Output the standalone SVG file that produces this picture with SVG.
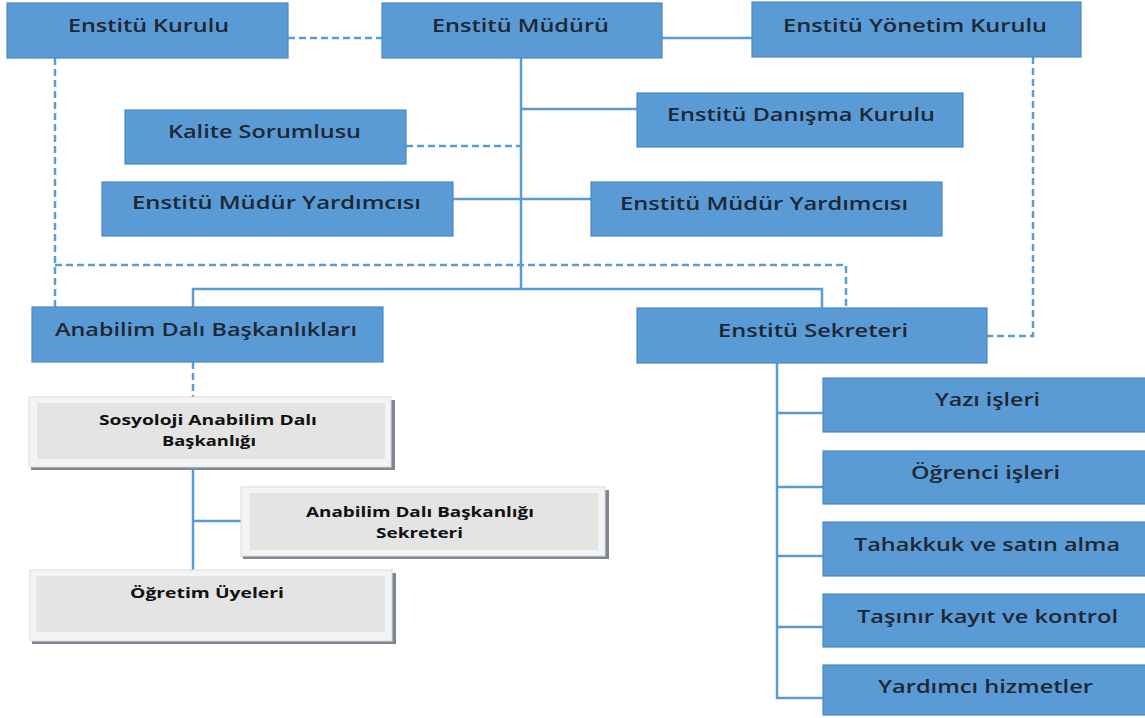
<svg xmlns="http://www.w3.org/2000/svg" width="1145" height="718" viewBox="0 0 1145 718">
<defs>
<style>
.bx{fill:#5b9bd5;stroke:#4a88c2;stroke-width:1.2}
.bt{font-family:"Open Sans","Liberation Sans",sans-serif;font-size:18px;font-weight:600;fill:#1d2835}
.gs{fill:#7d8894}
.go{fill:#f4f4f4;stroke:#dcdcdc;stroke-width:1}
.gi{fill:#e4e4e4}
.gt{font-family:"Open Sans","Liberation Sans",sans-serif;font-size:15px;font-weight:700;fill:#111}
.ln{fill:none;stroke:#5b9bd5;stroke-width:2.5}
.dl{fill:none;stroke:#5b9bd5;stroke-width:2.5;stroke-dasharray:7 4}
</style>
</defs>
<rect width="1145" height="718" fill="#fff"/>
<g id="connectors">
<path class="dl" d="M288 38H382"/>
<path class="ln" d="M662 38H752"/>
<path class="ln" d="M521 58V289"/>
<path class="ln" d="M521 109H637"/>
<path class="dl" d="M406 146H521"/>
<path class="ln" d="M453 199H591"/>
<path class="dl" d="M55 58V307"/>
<path class="dl" d="M55 265H846V308"/>
<path class="ln" d="M193 307V289H822V308"/>
<path class="dl" d="M1033 57V336H987"/>
<path class="dl" d="M193 362V397"/>
<path class="ln" d="M193 468V570"/>
<path class="ln" d="M193 521H241"/>
<path class="ln" d="M777 363V698H823"/>
<path class="ln" d="M777 413H823"/>
<path class="ln" d="M777 487H823"/>
<path class="ln" d="M777 556H823"/>
<path class="ln" d="M777 627H823"/>
</g>
<g id="enstitu-kurulu"><rect class="bx" x="7" y="3" width="281" height="55"/><text class="bt" x="68" y="32" textLength="161" lengthAdjust="spacingAndGlyphs">Enstitü Kurulu</text></g>
<g id="enstitu-muduru"><rect class="bx" x="382" y="3" width="280" height="55"/><text class="bt" x="432" y="32" textLength="177" lengthAdjust="spacingAndGlyphs">Enstitü Müdürü</text></g>
<g id="enstitu-yonetim-kurulu"><rect class="bx" x="752" y="2" width="329" height="55"/><text class="bt" x="783" y="32" textLength="264" lengthAdjust="spacingAndGlyphs">Enstitü Yönetim Kurulu</text></g>
<g id="danisma-kurulu"><rect class="bx" x="637" y="93" width="326" height="54"/><text class="bt" x="667" y="121" textLength="268" lengthAdjust="spacingAndGlyphs">Enstitü Danışma Kurulu</text></g>
<g id="kalite-sorumlusu"><rect class="bx" x="125" y="110" width="281" height="54"/><text class="bt" x="168" y="138" textLength="193" lengthAdjust="spacingAndGlyphs">Kalite Sorumlusu</text></g>
<g id="mudur-yardimcisi-1"><rect class="bx" x="102" y="182" width="351" height="54"/><text class="bt" x="132" y="209" textLength="289" lengthAdjust="spacingAndGlyphs">Enstitü Müdür Yardımcısı</text></g>
<g id="mudur-yardimcisi-2"><rect class="bx" x="591" y="182" width="351" height="54"/><text class="bt" x="620" y="210" textLength="288" lengthAdjust="spacingAndGlyphs">Enstitü Müdür Yardımcısı</text></g>
<g id="anabilim-dali-baskanliklari"><rect class="bx" x="32" y="307" width="351" height="55"/><text class="bt" x="55" y="336" textLength="302" lengthAdjust="spacingAndGlyphs">Anabilim Dalı Başkanlıkları</text></g>
<g id="enstitu-sekreteri"><rect class="bx" x="637" y="308" width="350" height="55"/><text class="bt" x="718" y="337" textLength="190" lengthAdjust="spacingAndGlyphs">Enstitü Sekreteri</text></g>
<g id="yazi-isleri"><rect class="bx" x="823" y="378" width="325" height="54"/><text class="bt" x="935" y="406" textLength="105" lengthAdjust="spacingAndGlyphs">Yazı işleri</text></g>
<g id="ogrenci-isleri"><rect class="bx" x="823" y="451" width="325" height="53"/><text class="bt" x="911" y="479" textLength="149" lengthAdjust="spacingAndGlyphs">Öğrenci işleri</text></g>
<g id="tahakkuk"><rect class="bx" x="823" y="522" width="325" height="54"/><text class="bt" x="854" y="551" textLength="266" lengthAdjust="spacingAndGlyphs">Tahakkuk ve satın alma</text></g>
<g id="tasinir"><rect class="bx" x="823" y="594" width="325" height="53"/><text class="bt" x="857" y="623" textLength="261" lengthAdjust="spacingAndGlyphs">Taşınır kayıt ve kontrol</text></g>
<g id="yardimci-hizmetler"><rect class="bx" x="823" y="665" width="325" height="50"/><text class="bt" x="878" y="693" textLength="215" lengthAdjust="spacingAndGlyphs">Yardımcı hizmetler</text></g>
<g id="sosyoloji"><rect class="gs" x="31" y="400" width="364" height="70"/><rect class="go" x="29" y="397" width="362" height="70"/><rect class="gi" x="37" y="403" width="348" height="56"/><text class="gt" x="99" y="425" textLength="218" lengthAdjust="spacingAndGlyphs">Sosyoloji Anabilim Dalı</text><text class="gt" x="162" y="446" textLength="94" lengthAdjust="spacingAndGlyphs">Başkanlığı</text></g>
<g id="adb-sekreteri"><rect class="gs" x="243" y="490" width="366" height="69"/><rect class="go" x="241" y="487" width="364" height="69"/><rect class="gi" x="250" y="493" width="348" height="57"/><text class="gt" x="306" y="517" textLength="228" lengthAdjust="spacingAndGlyphs">Anabilim Dalı Başkanlığı</text><text class="gt" x="376" y="538" textLength="87" lengthAdjust="spacingAndGlyphs">Sekreteri</text></g>
<g id="ogretim-uyeleri"><rect class="gs" x="32" y="573" width="364" height="71"/><rect class="go" x="30" y="570" width="362" height="71"/><rect class="gi" x="36" y="576" width="349" height="56"/><text class="gt" x="130" y="598" textLength="154" lengthAdjust="spacingAndGlyphs">Öğretim Üyeleri</text></g>
</svg>
